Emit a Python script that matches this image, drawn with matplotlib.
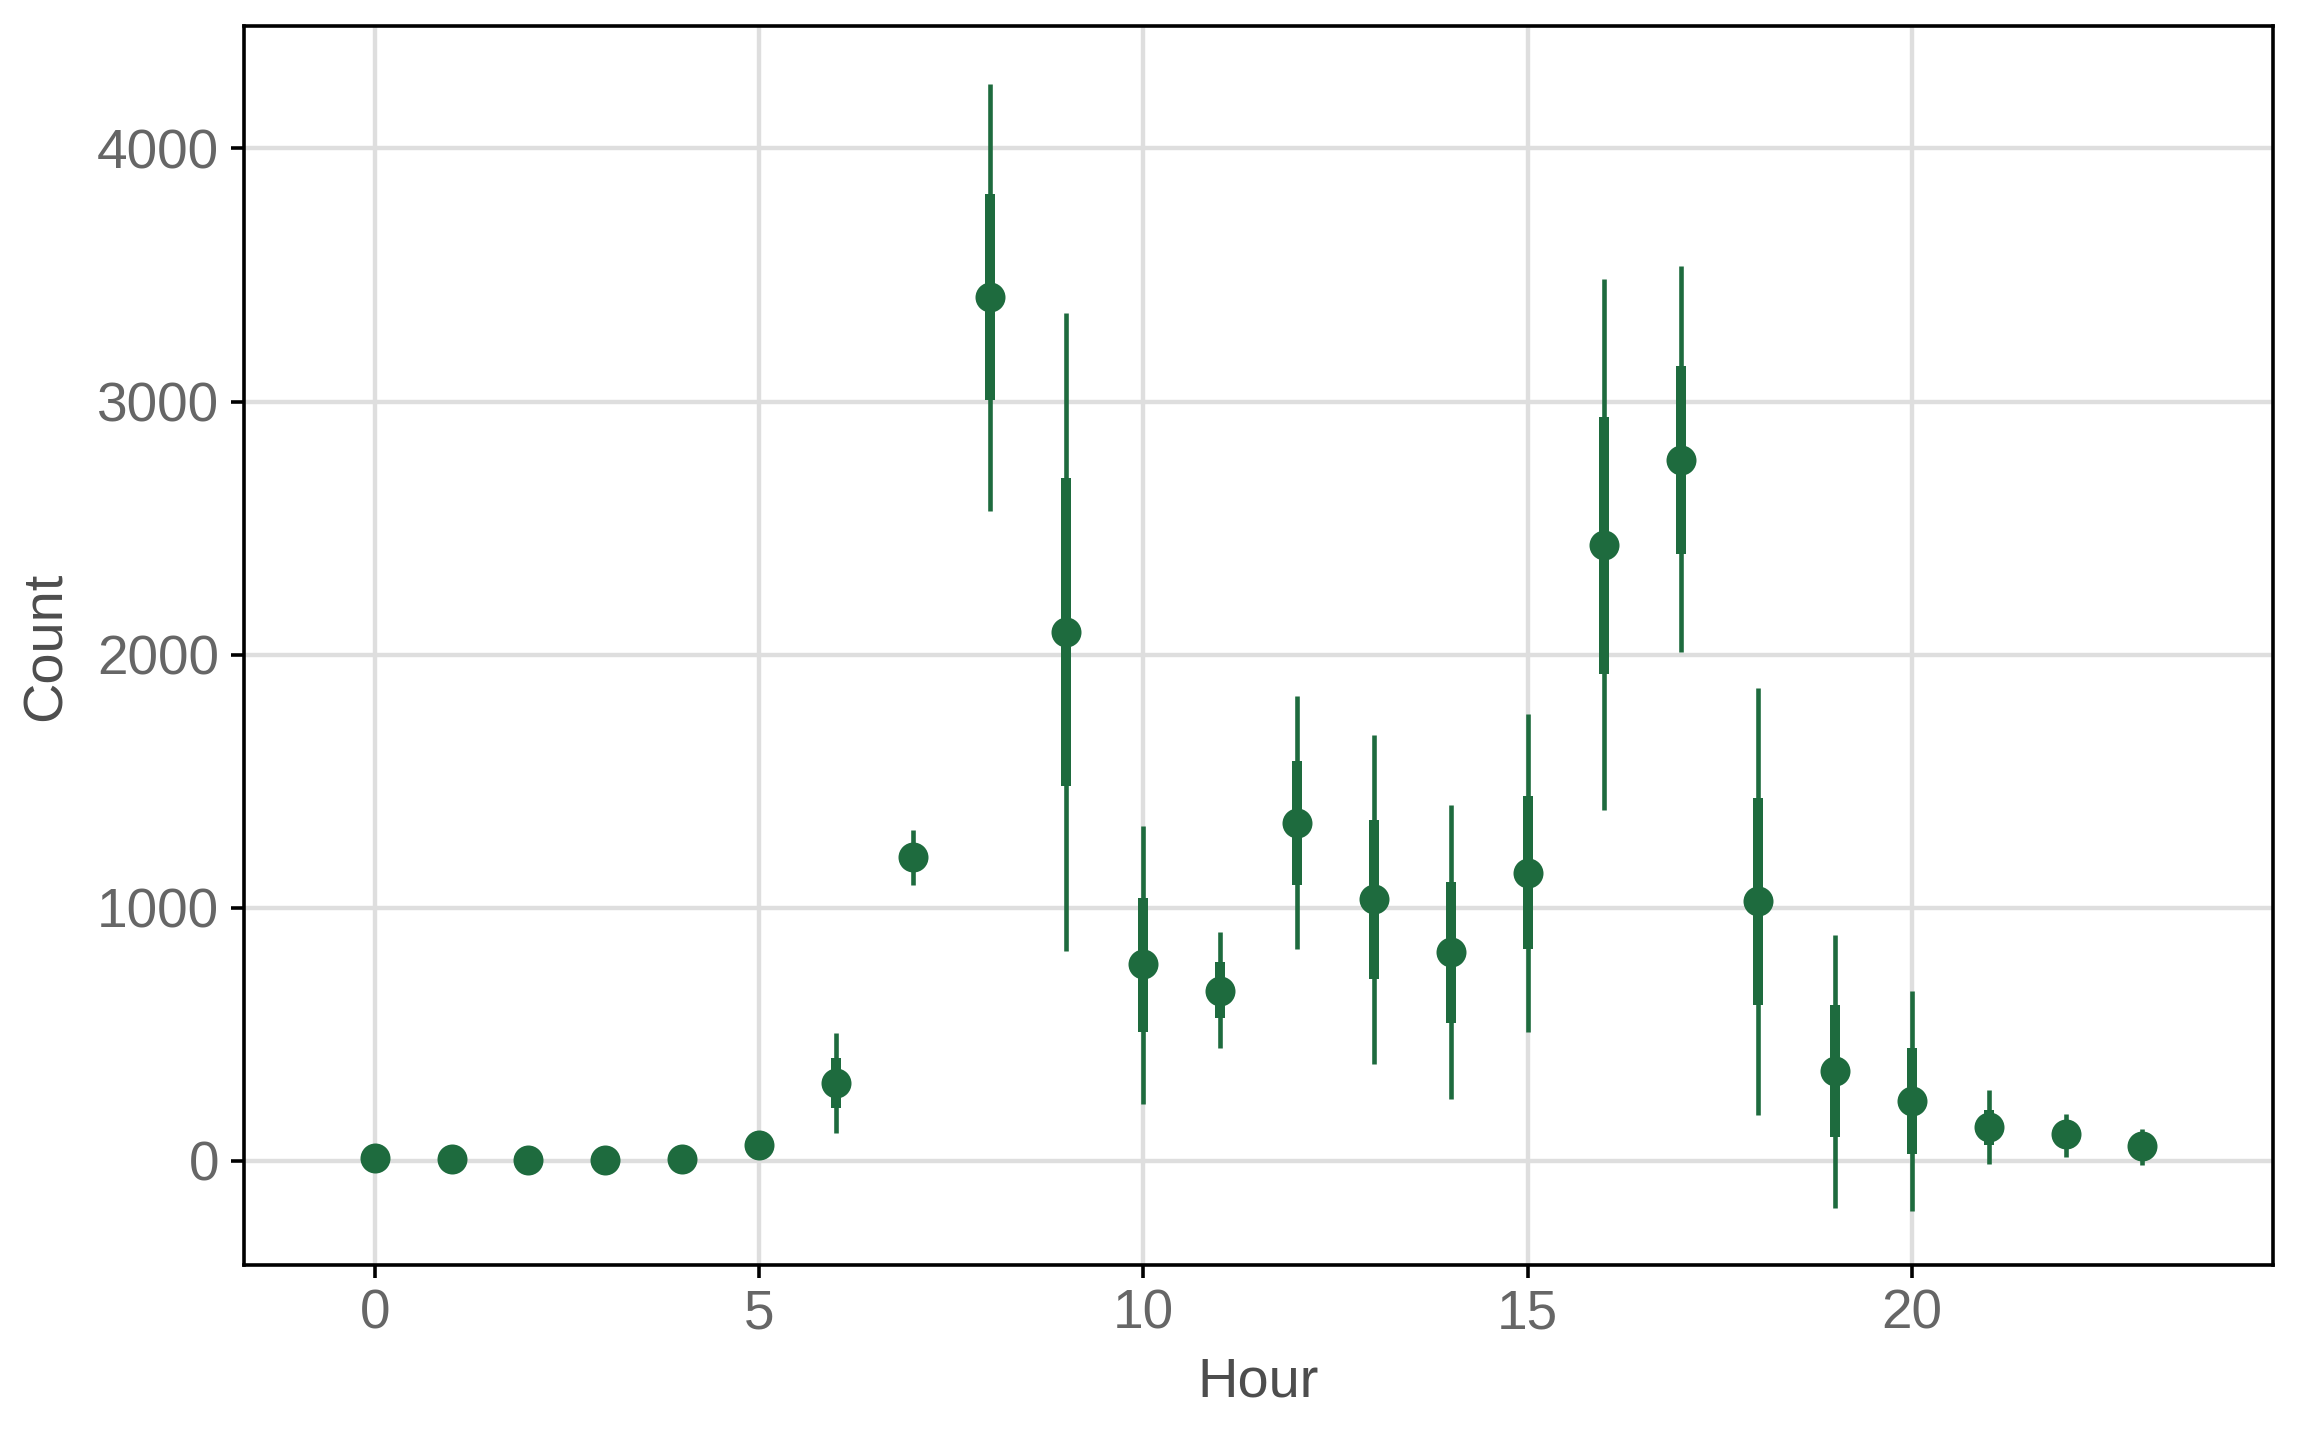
import matplotlib
matplotlib.use("Agg")
import matplotlib.pyplot as plt
import numpy as np

plt.rcParams['font.family'] = ['Liberation Sans', 'DejaVu Sans']

hours = np.arange(24)
count = [12, 6, 5, 4, 8, 64, 308, 1202, 3414, 2090, 778, 673,
         1335, 1033, 824, 1138, 2432, 2769, 1028, 354, 238, 134, 105, 58]
# inner interval (thick)
inner_lo = [12, 6, 5, 4, 8, 64, 209, 1150, 3007, 1480, 511, 563,
            1091, 720, 546, 836, 1922, 2398, 615, 93, 29, 64, 75, 35]
inner_hi = [12, 6, 5, 4, 8, 64, 406, 1250, 3820, 2700, 1039, 784,
            1579, 1347, 1103, 1440, 2938, 3141, 1434, 615, 447, 203, 140, 85]
# outer interval (thin)
outer_lo = [12, 6, 5, 4, 8, 64, 110, 1091, 2566, 830, 226, 447,
            836, 383, 244, 511, 1388, 2009, 180, -186, -197, -12, 17, -17]
outer_hi = [12, 6, 5, 4, 8, 64, 505, 1306, 4255, 3350, 1324, 906,
            1835, 1684, 1405, 1765, 3483, 3536, 1869, 894, 673, 279, 186, 128]

green = "#1e6b3e"

fig = plt.figure(figsize=(16, 10), dpi=144)
ax = fig.add_axes([0.1059, 0.1214, 0.8807, 0.8602])

ax.vlines(hours, outer_lo, outer_hi, color=green, lw=2.3, zorder=3)
ax.vlines(hours, inner_lo, inner_hi, color=green, lw=5.0, zorder=3)
ax.plot(hours, count, 'o', color=green, ms=15, mec='none', zorder=4)

ax.set_xlim(-1.7, 24.7)
ax.set_ylim(-412, 4482)
ax.set_xticks([0, 5, 10, 15, 20])
ax.set_yticks([0, 1000, 2000, 3000, 4000])

ax.grid(True, color="#dedede", lw=2.2)
ax.set_axisbelow(True)
for s in ax.spines.values():
    s.set_color("black")
    s.set_linewidth(1.8)

ax.tick_params(axis='both', labelsize=27.5, labelcolor="#666666", color="black",
               length=6.5, width=1.8)
ax.tick_params(axis='y', pad=6)
ax.tick_params(axis='x', pad=5)
ax.set_xlabel("Hour", fontsize=28, color="#4d4d4d", labelpad=8)
ax.set_ylabel("Count", fontsize=28, color="#4d4d4d", labelpad=12)

fig.savefig("out.png", dpi=144)
